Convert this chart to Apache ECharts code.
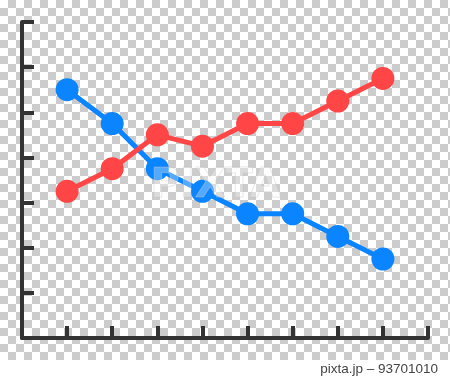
<!DOCTYPE html>
<html>
<head>
<meta charset="utf-8">
<script src="https://cdn.jsdelivr.net/npm/echarts@6/dist/echarts.min.js"></script>
<style>
html,body{margin:0;padding:0;background:#fff;}
#bg{position:absolute;left:0;top:0;width:450px;height:360px;
background:conic-gradient(#cccccc 25%, #ffffff 0 50%, #cccccc 0 75%, #ffffff 0);
background-size:16px 16px;}
#chart{position:absolute;left:0;top:0;width:450px;height:379px;}
</style>
</head>
<body>
<div id="bg"></div>
<div id="chart"></div>
<script>
var categories = [1, 2, 3, 4, 5, 6, 7, 8];
var blueValues = [5.5, 4.75, 3.75, 3.25, 2.75, 2.75, 2.25, 1.75];
var redValues = [3.25, 3.75, 4.5, 4.25, 4.75, 4.75, 5.25, 5.75];
var watermark = 'PIXTA';
var credit = 'pixta.jp \u2013 93701010';

var chart = echarts.init(document.getElementById('chart'), null, {renderer: 'canvas'});
function pairs(vals){ return categories.map(function(c,i){ return [c, vals[i]]; }); }
var axisStyle = {color: '#333333', width: 4};
chart.setOption({
  backgroundColor: 'transparent',
  animation: false,
  grid: {left: 22, right: 22, top: 22, bottom: 41, containLabel: false},
  xAxis: {
    type: 'value', min: 0, max: 9, interval: 1,
    axisLine: {show: true, lineStyle: axisStyle},
    axisTick: {show: true, inside: true, length: 12, lineStyle: axisStyle},
    axisLabel: {show: false}, splitLine: {show: false}
  },
  yAxis: {
    type: 'value', min: 0, max: 7, interval: 1,
    axisLine: {show: true, lineStyle: axisStyle},
    axisTick: {show: true, inside: true, length: 12, lineStyle: axisStyle},
    axisLabel: {show: false}, splitLine: {show: false}
  },
  series: [
    {type: 'line', data: pairs(blueValues), symbol: 'circle', symbolSize: 23,
     lineStyle: {color: '#0a85ff', width: 5}, itemStyle: {color: '#0a85ff'}, z: 2},
    {type: 'line', data: pairs(redValues), symbol: 'circle', symbolSize: 23,
     lineStyle: {color: '#ff4545', width: 5}, itemStyle: {color: '#ff4545'}, z: 3}
  ],
  graphic: [
    {type: 'text', left: 150, top: 166, z: 100,
     style: {text: watermark, font: 'bold 40px "DejaVu Sans"', fill: 'rgba(255,255,255,0.3)', stroke: 'rgba(190,190,190,0.4)', lineWidth: 1}},
    {type: 'text', right: 12, top: 362, z: 100,
     style: {text: credit, font: '13.5px "Liberation Sans"', fill: '#444444'}}
  ]
});
</script>
</body>
</html>
